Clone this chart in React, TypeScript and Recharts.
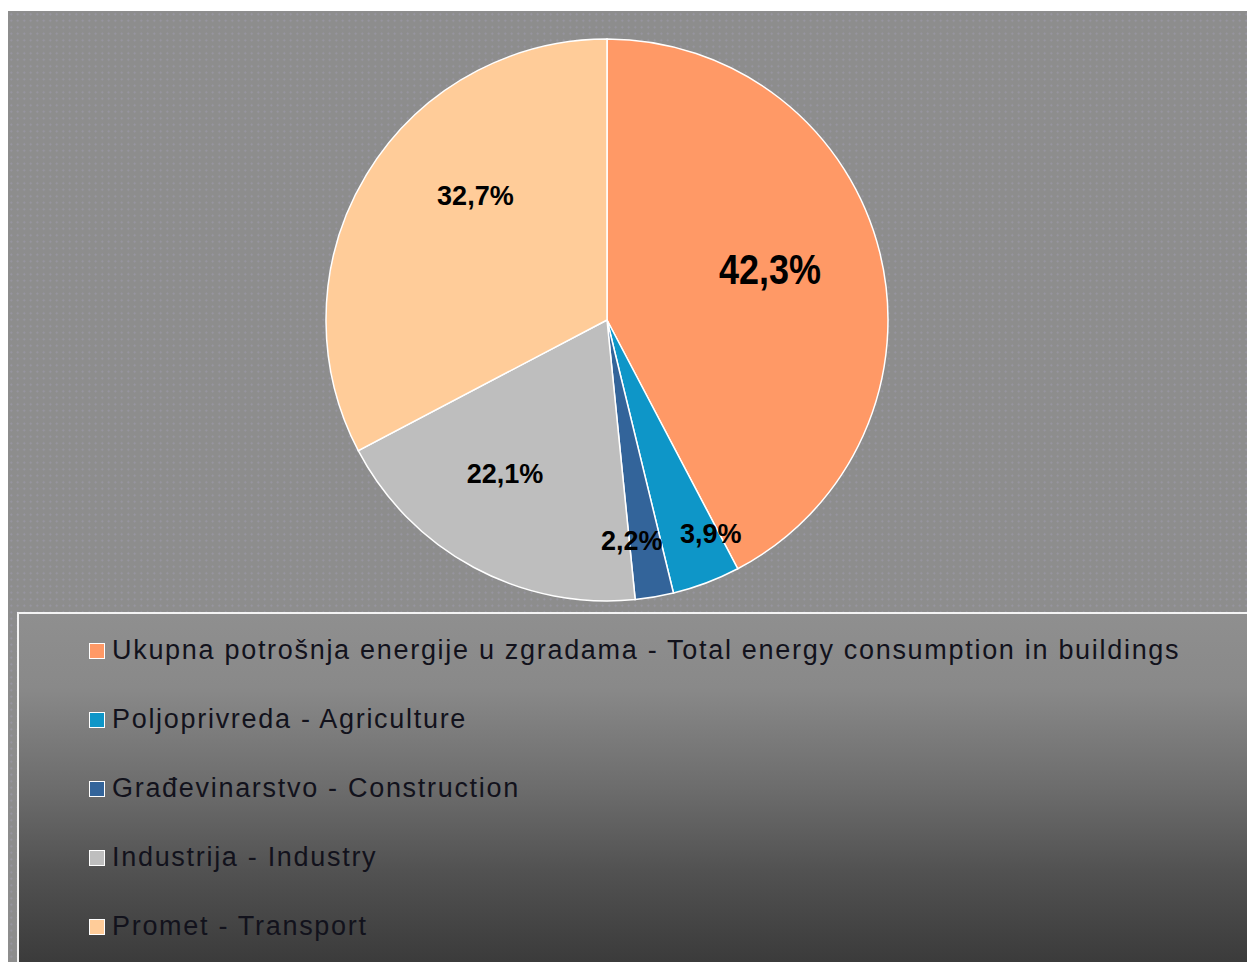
import React from "react";
import { PieChart, Pie, Cell, Legend } from "recharts";

// Sector names as shown in the legend
const categories = [
  "Ukupna potrošnja energije u zgradama - Total energy consumption in buildings",
  "Poljoprivreda - Agriculture",
  "Građevinarstvo - Construction",
  "Industrija - Industry",
  "Promet - Transport",
];
// Shares as drawn (slice angles)
const shares = [42.3, 3.9, 2.2, 18.9, 32.7];
// Labels printed on the slices
const sliceLabels = ["42,3%", "3,9%", "2,2%", "22,1%", "32,7%"];

const colors = ["#FF9966", "#0E96C8", "#33649A", "#BEBEBE", "#FFCC99"];
// label placement style: radius fraction and angular tweak (deg, clockwise)
const labelRadius = [0.607, 0.845, 0.79, 0.658, 0.644];
const labelShift = [-3.2, -5.2, 3.3, 5.2, 12.2];

const data = categories.map((name, i) => ({ name, value: shares[i], label: sliceLabels[i] }));

const RAD = Math.PI / 180;

const renderLabel = (props: any) => {
  const { cx, cy, midAngle, outerRadius, index } = props;
  const ang = (midAngle - labelShift[index]) * RAD;
  const r = outerRadius * labelRadius[index];
  const x = cx + r * Math.cos(ang);
  const y = cy - r * Math.sin(ang);
  const big = index === 0;
  return (
    <text
      x={x}
      y={y}
      textAnchor="middle"
      dominantBaseline="central"
      fill="#000"
      fontFamily="'Liberation Sans', Arial, sans-serif"
      fontWeight="bold"
      fontSize={big ? 42 : 27}
      {...(big ? { textLength: 102, lengthAdjust: "spacingAndGlyphs" } : {})}
    >
      {sliceLabels[index]}
    </text>
  );
};

const renderLegend = () => (
  <div
    style={{
      width: 1250,
      height: 370,
      boxSizing: "border-box",
      border: "2px solid #f4f4f4",
      background:
        "linear-gradient(to bottom, #8f8f8f 0%, #898989 20%, #6c6c6c 48%, #525252 70%, #3b3b3b 95%)",
      paddingTop: 2,
      fontFamily: "'Liberation Sans', Arial, sans-serif",
    }}
  >
    {categories.map((name, i) => (
      <div
        key={name}
        style={{ height: 69, display: "flex", alignItems: "center", paddingLeft: 70 }}
      >
        <span
          style={{
            width: 14,
            height: 14,
            background: colors[i],
            border: "1.5px solid #fff",
            display: "inline-block",
            marginRight: 7,
            flex: "none",
          }}
        />
        <span style={{ fontSize: 27, color: "#12121c", letterSpacing: 1.7, whiteSpace: "nowrap" }}>
          {name}
        </span>
      </div>
    ))}
  </div>
);

export default function App() {
  return (
    <div style={{ position: "fixed", left: 0, top: 0, width: 1247, height: 962, background: "#fff", overflow: "hidden" }}>
      <style>{"body{margin:0;overflow:hidden}"}</style>
      <div
        style={{
          position: "absolute",
          left: 8,
          top: 11,
          width: 1239,
          height: 951,
          overflow: "hidden",
          backgroundColor: "#8d8d8d",
          backgroundImage:
            "radial-gradient(circle, rgba(175,170,205,0.35) 0.8px, transparent 1.2px)",
          backgroundSize: "6.5px 6.5px",
        }}
      >
        <PieChart width={1239} height={951} margin={{ top: 0, right: 0, bottom: 0, left: 0 }}>
          <Pie
            data={data}
            dataKey="value"
            nameKey="name"
            cx={599}
            cy={309}
            outerRadius={281}
            startAngle={90}
            endAngle={-270}
            stroke="#ffffff"
            strokeWidth={1.5}
            label={renderLabel}
            labelLine={false}
            isAnimationActive={false}
          >
            {data.map((d, i) => (
              <Cell key={d.name} fill={colors[i]} />
            ))}
          </Pie>
          <Legend
            content={renderLegend}
            wrapperStyle={{ position: "absolute", left: 9, top: 601, width: 1250, height: 370, bottom: "auto" }}
          />
        </PieChart>
      </div>
    </div>
  );
}
